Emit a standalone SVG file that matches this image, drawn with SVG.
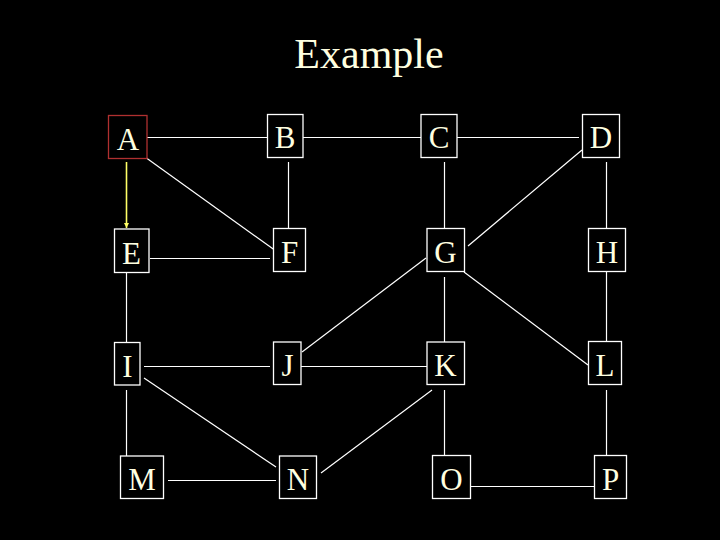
<svg xmlns="http://www.w3.org/2000/svg" width="720" height="540" viewBox="0 0 720 540">
<defs>
<style>
.box{fill:#000;stroke:#fff;stroke-width:1.3}
.sel{fill:#000;stroke:#b03030;stroke-width:1.3}
.lbl{font-family:"Liberation Serif","Times New Roman",serif;font-size:31px;fill:#ffffe0;text-anchor:middle}
.edge{stroke:#fff;stroke-width:1.2;fill:none}
.arrow{stroke:#ffff66;stroke-width:1.6;fill:none}
</style>
<marker id="ah" markerWidth="6" markerHeight="6" refX="5" refY="3" orient="auto" markerUnits="userSpaceOnUse">
<path d="M0,0.5 L5,3 L0,5.5 z" fill="#ffff66"/>
</marker>
</defs>
<rect width="720" height="540" fill="#000"/>
<text x="369" y="68" style="font-family:'Liberation Serif','Times New Roman',serif;font-size:42px;fill:#ffffe0;text-anchor:middle">Example</text>
<g id="connectors">
<line class="edge" x1="147" y1="137.5" x2="267" y2="137.5"/>
<line class="edge" x1="303" y1="137.5" x2="421" y2="137.5"/>
<line class="edge" x1="457" y1="137.5" x2="579" y2="137.5"/>
<line class="edge" x1="145" y1="157" x2="276" y2="251"/>
<line class="edge" x1="288.5" y1="162" x2="288.5" y2="228"/>
<line class="edge" x1="444.5" y1="162" x2="444.5" y2="228"/>
<line class="edge" x1="606.5" y1="162" x2="606.5" y2="228"/>
<line class="edge" x1="582" y1="150" x2="468" y2="246"/>
<line class="edge" x1="150" y1="258.5" x2="270" y2="258.5"/>
<line class="edge" x1="126.5" y1="273" x2="126.5" y2="342"/>
<line class="edge" x1="426" y1="258" x2="302" y2="352"/>
<line class="edge" x1="444.5" y1="277" x2="444.5" y2="342"/>
<line class="edge" x1="464" y1="272" x2="588" y2="365"/>
<line class="edge" x1="606.5" y1="272" x2="606.5" y2="341"/>
<line class="edge" x1="144" y1="366.5" x2="270" y2="366.5"/>
<line class="edge" x1="301" y1="366.5" x2="427" y2="366.5"/>
<line class="edge" x1="144" y1="378" x2="276" y2="467"/>
<line class="edge" x1="126.5" y1="390" x2="126.5" y2="456"/>
<line class="edge" x1="432" y1="390" x2="321" y2="473"/>
<line class="edge" x1="444.5" y1="390" x2="444.5" y2="455"/>
<line class="edge" x1="606.5" y1="390" x2="606.5" y2="455"/>
<line class="edge" x1="168" y1="480.5" x2="276" y2="480.5"/>
<line class="edge" x1="471" y1="486.5" x2="594" y2="486.5"/>
<line class="arrow" x1="126.5" y1="162" x2="126.5" y2="228" marker-end="url(#ah)"/>
</g>
<g id="A"><rect class="sel" x="108.5" y="115.5" width="38.5" height="43"/><text class="lbl" x="128" y="150">A</text></g>
<g id="B"><rect class="box" x="267.5" y="114.5" width="35.5" height="43"/><text class="lbl" x="285" y="148">B</text></g>
<g id="C"><rect class="box" x="421" y="114.5" width="36" height="43"/><text class="lbl" x="439" y="148">C</text></g>
<g id="D"><rect class="box" x="582.5" y="114.5" width="37" height="43"/><text class="lbl" x="601" y="148">D</text></g>
<g id="E"><rect class="box" x="114.5" y="229" width="34.5" height="43.5"/><text class="lbl" x="131.5" y="264">E</text></g>
<g id="F"><rect class="box" x="273.5" y="228.5" width="32" height="43"/><text class="lbl" x="289.5" y="263">F</text></g>
<g id="G"><rect class="box" x="427" y="228.5" width="37.5" height="43"/><text class="lbl" x="445.5" y="263">G</text></g>
<g id="H"><rect class="box" x="588.5" y="228.5" width="37" height="43"/><text class="lbl" x="607" y="263">H</text></g>
<g id="I"><rect class="box" x="114.5" y="342.5" width="25.5" height="42.5"/><text class="lbl" x="127.5" y="377">I</text></g>
<g id="J"><rect class="box" x="273.5" y="342" width="27.5" height="42.5"/><text class="lbl" x="287.5" y="376">J</text></g>
<g id="K"><rect class="box" x="427" y="342" width="37.5" height="42.5"/><text class="lbl" x="445.5" y="376">K</text></g>
<g id="L"><rect class="box" x="588.5" y="341.5" width="33" height="43"/><text class="lbl" x="605" y="376">L</text></g>
<g id="M"><rect class="box" x="120.5" y="456" width="43" height="42.5"/><text class="lbl" x="142" y="490">M</text></g>
<g id="N"><rect class="box" x="279.5" y="456" width="37" height="42.5"/><text class="lbl" x="298" y="490">N</text></g>
<g id="O"><rect class="box" x="432.5" y="455.5" width="38" height="43"/><text class="lbl" x="451.5" y="490">O</text></g>
<g id="P"><rect class="box" x="594.5" y="455.5" width="32" height="43"/><text class="lbl" x="610.5" y="490">P</text></g>
</svg>
